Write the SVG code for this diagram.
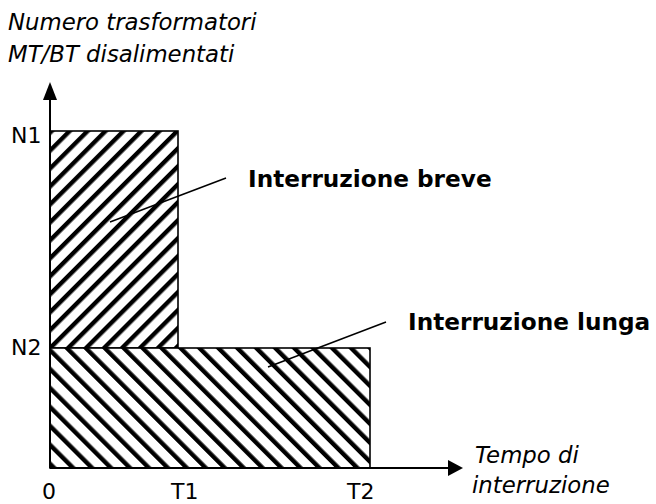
<svg xmlns="http://www.w3.org/2000/svg" width="656" height="504" viewBox="0 0 656 504">
<style>
.lbl{font-family:"DejaVu Sans","Liberation Sans",sans-serif;font-size:22px;fill:#000}
.it{font-family:"DejaVu Sans","Liberation Sans",sans-serif;font-style:italic;font-size:22.8px;fill:#000}
.bd{font-family:"DejaVu Sans","Liberation Sans",sans-serif;font-weight:bold;font-size:23.2px;fill:#000}
.box{stroke:#000;stroke-width:1.6}
.ax{stroke:#000;stroke-width:2;fill:none}
.lead{stroke:#000;stroke-width:1.5;fill:none}
</style>
<defs>
<pattern id="hatchA" patternUnits="userSpaceOnUse" width="12.7" height="12.7" patternTransform="rotate(45)">
<rect width="12.7" height="12.7" fill="#fff"/>
<rect x="0" y="0" width="4.4" height="12.7" fill="#000"/>
</pattern>
<pattern id="hatchB" patternUnits="userSpaceOnUse" width="13.4" height="13.4" patternTransform="rotate(-45)">
<rect width="13.4" height="13.4" fill="#fff"/>
<rect x="0" y="0" width="4.4" height="13.4" fill="#000"/>
</pattern>
</defs>
<rect width="656" height="504" fill="#fff"/>
<g id="breve">
<rect class="box" x="50" y="131" width="128" height="217" fill="url(#hatchA)"/>
</g>
<g id="lunga">
<rect class="box" x="50" y="348" width="320" height="120" fill="url(#hatchB)"/>
</g>
<g id="axes">
<line class="ax" x1="50" y1="468" x2="50" y2="98"/>
<polygon points="50,82 43,100 57,100" fill="#000"/>
<line class="ax" x1="50" y1="468" x2="450" y2="468"/>
<polygon points="463,468 448,460 448,476" fill="#000"/>
</g>
<g id="connectors">
<line class="lead" x1="110" y1="222" x2="226" y2="178"/>
<line class="lead" x1="268" y1="367" x2="386" y2="322"/>
</g>
<g id="labels">
<text class="it" x="8" y="30">Numero trasformatori</text>
<text class="it" x="8" y="62">MT/BT disalimentati</text>
<text class="lbl" x="11" y="143">N1</text>
<text class="lbl" x="11" y="355">N2</text>
<text class="lbl" x="42" y="499">0</text>
<text class="lbl" x="171" y="499">T1</text>
<text class="lbl" x="347" y="499">T2</text>
<text class="it" x="475" y="463">Tempo di</text>
<text class="it" x="472" y="493">interruzione</text>
<text class="bd" x="248" y="187">Interruzione breve</text>
<text class="bd" x="408" y="330">Interruzione lunga</text>
</g>
</svg>
